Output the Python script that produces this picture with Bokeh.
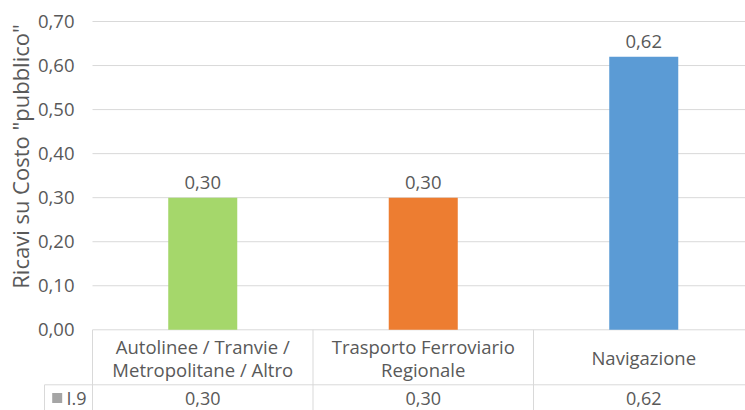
from bokeh.plotting import figure
from bokeh.models import Range1d, ColumnDataSource
from bokeh.core.properties import value
from bokeh.embed import file_html
from bokeh.resources import INLINE
import math

# ---- data ----
categories = [["Autolinee / Tranvie /", "Metropolitane / Altro"],
              ["Trasporto Ferroviario", "Regionale"],
              ["Navigazione"]]
series_name = "I.9"
values = [0.30, 0.30, 0.62]
bar_colors = ["#A5D76B", "#ED7D31", "#5B9BD5"]
y_ticks = [0.0, 0.1, 0.2, 0.3, 0.4, 0.5, 0.6, 0.7]
y_title = 'Ricavi su Costo "pubblico"'

def fmt(v):
    return f"{v:.2f}".replace(".", ",")

# ---- layout (page pixels) ----
OFF = 0                        # page offset of the figure
W, H = 745, 410
X0_PX, CW = 92.0, 220.5        # page x of first category edge, px per category
Y0_PX, PPU = 329.3, 440.4      # page y of value 0, px per unit
def xd(px):
    return (px - X0_PX) / CW
def yd(py):
    return (Y0_PX - py) / PPU

FONT = value("Open Sans")
FS = "18.5px"
FS_ROW = "18px"
FS_TITLE = "22px"
TXT = "#595959"
LINE = "#D9D9D9"

p = figure(width=W, height=H, output_backend="svg", toolbar_location=None,
           x_range=Range1d(xd(OFF), xd(OFF + W)), y_range=Range1d(yd(OFF + H), yd(OFF)),
           min_border=0, min_border_left=0, min_border_right=0,
           min_border_top=0, min_border_bottom=0)
p.axis.visible = False
p.grid.visible = False
p.outline_line_color = None
p.background_fill_color = "white"
p.border_fill_color = "white"

n = len(values)
x_end = xd(OFF + W)

# gridlines (0 line is table top border)
p.segment(x0=[0] * len(y_ticks), x1=[x_end] * len(y_ticks), y0=y_ticks, y1=y_ticks,
          line_color=LINE, line_width=1)

# tick labels
p.text(x=[xd(74)] * len(y_ticks), y=y_ticks, text=[fmt(t) for t in y_ticks],
       text_font=FONT, text_font_size=FS, text_color=TXT,
       text_align="right", text_baseline="middle")

# axis title
p.text(x=[xd(19)], y=[yd(156)], text=[y_title], angle=math.pi / 2,
       text_font=FONT, text_font_size=FS_TITLE, text_color=TXT,
       text_align="center", text_baseline="middle")

# bars
xs = [i + 0.5 for i in range(n)]
src = ColumnDataSource(dict(x=xs, top=values, color=bar_colors,
                            label=[fmt(v) for v in values]))
p.vbar(x="x", top="top", bottom=0, width=0.313, fill_color="color",
       line_color=None, source=src)
p.text(x="x", y="top", text="label", source=src, y_offset=-15,
       text_font=FONT, text_font_size=FS, text_color=TXT,
       text_align="center", text_baseline="alphabetic")

# data table
row_mid = yd(384.3)
y_bot = yd(OFF + H)
p.segment(x0=list(range(n)), x1=list(range(n)), y0=[0] * n, y1=[y_bot] * n,
          line_color=LINE, line_width=1)
p.segment(x0=[xd(44)], x1=[x_end], y0=[row_mid], y1=[row_mid], line_color=LINE, line_width=1)
p.segment(x0=[xd(44)], x1=[xd(44)], y0=[row_mid], y1=[y_bot], line_color=LINE, line_width=1)

# category labels
lx, ly, lt = [], [], []
for i, lines in enumerate(categories):
    k = len(lines)
    for j, t in enumerate(lines):
        cy = 357 + (j - (k - 1) / 2) * 23
        lx.append(i + 0.5)
        ly.append(yd(cy))
        lt.append(t)
p.text(x=lx, y=ly, text=lt, text_font=FONT, text_font_size=FS, text_color=TXT,
       text_align="center", text_baseline="middle")

# value row
ROW_Y = 397.5
p.text(x=xs, y=[yd(ROW_Y)] * n, text=[fmt(v) for v in values],
       text_font=FONT, text_font_size=FS_ROW, text_color=TXT,
       text_align="center", text_baseline="middle")

# legend key
p.scatter(x=[xd(56.7)], y=[yd(ROW_Y)], marker="square", size=10,
          fill_color="#A5A5A5", line_color=None)
p.text(x=[xd(66)], y=[yd(ROW_Y)], text=[series_name],
       text_font=FONT, text_font_size=FS_ROW, text_color=TXT,
       text_align="left", text_baseline="middle")

open("out.html", "w").write(file_html(p, INLINE))
